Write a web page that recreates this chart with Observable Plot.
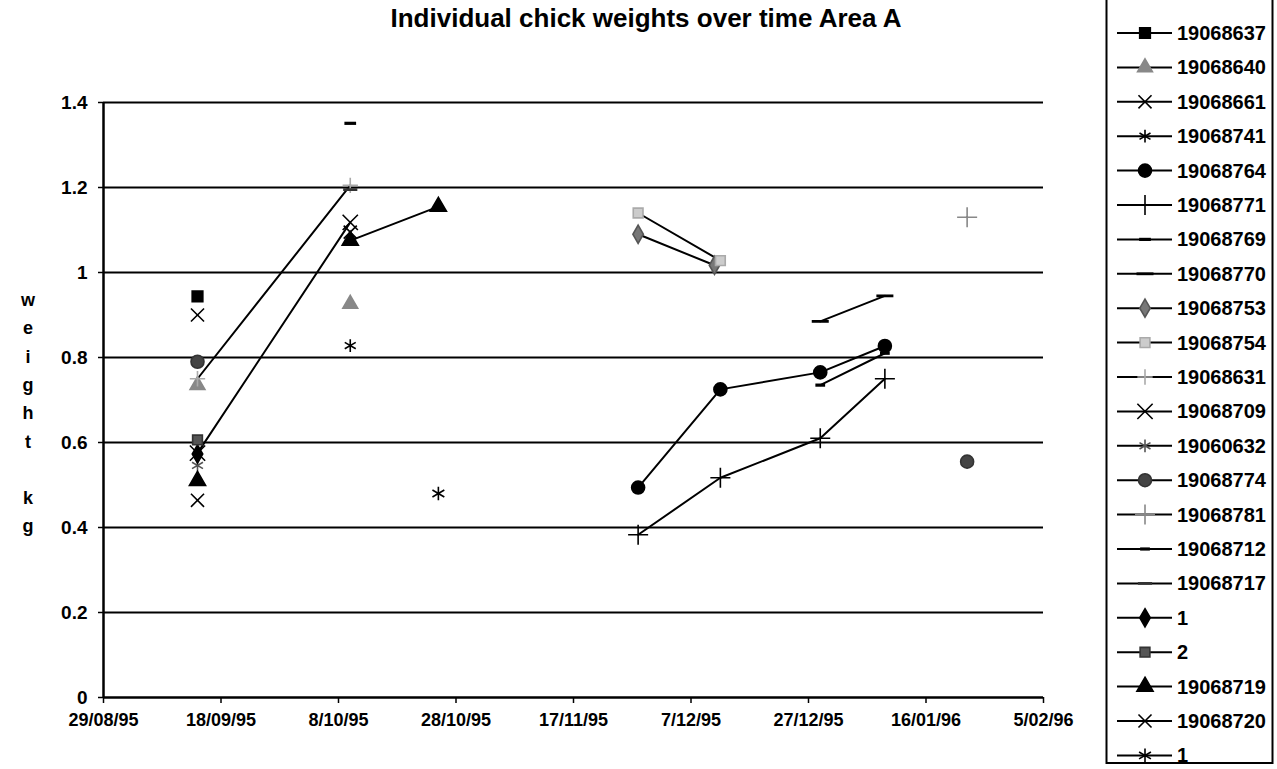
<!DOCTYPE html>
<html>
<head>
<meta charset="utf-8">
<script src="https://cdn.jsdelivr.net/npm/d3@7"></script>
<script src="https://cdn.jsdelivr.net/npm/@observablehq/plot@0.6"></script>
<style>
  body { margin: 0; background: #fff; font-family: Arial, "Liberation Sans", sans-serif; }
  #wrap { position: relative; width: 1277px; height: 769px; overflow: hidden; background: #fff; }
  #chart { position: absolute; left: 0; top: 0; }
  #title { position: absolute; top: 3px; left: 0; width: 1292px; text-align: center;
           font-weight: bold; font-size: 26px; color: #000; }
  #ylab { position: absolute; left: 17px; width: 22px; text-align: center;
          font-weight: bold; font-size: 18px; color: #000; }
  #ylab div { position: absolute; left: 0; width: 22px; }
  #legend { position: absolute; left: 1090px; top: 0; }
</style>
</head>
<body>
<div id="wrap">
  <div id="chart"></div>
  <div id="title"></div>
  <div id="ylab"></div>
  <div id="legend"></div>
</div>
<script>
// ---------- data ----------
const titleText = "Individual chick weights over time Area A";
const yLabelLetters = ["w", "e", "i", "g", "h", "t", "", "k", "g"];

const xTickDates = ["1995-08-29", "1995-09-18", "1995-10-08", "1995-10-28", "1995-11-17",
                    "1995-12-07", "1995-12-27", "1996-01-16", "1996-02-05"];
const yTicks = [0, 0.2, 0.4, 0.6, 0.8, 1, 1.2, 1.4];

const seriesNames = ["19068637", "19068640", "19068661", "19068741", "19068764", "19068771",
  "19068769", "19068770", "19068753", "19068754", "19068631", "19068709", "19060632",
  "19068774", "19068781", "19068712", "19068717", "1", "2", "19068719", "19068720", "1"];

// [date, weight kg]; null = break in the line
const w19068637 = [["1995-09-14", 0.944]];
const w19068640 = [["1995-09-14", 0.735], null, ["1995-10-10", 0.926]];
const w19068661 = [["1995-09-14", 0.90]];
const w19068741 = [["1995-10-10", 0.828]];
const w19068764 = [["1995-11-28", 0.494], ["1995-12-12", 0.725], ["1995-12-29", 0.765], ["1996-01-09", 0.827]];
const w19068771 = [["1995-11-28", 0.383], ["1995-12-12", 0.517], ["1995-12-29", 0.61], ["1996-01-09", 0.75]];
const w19068769 = [["1995-10-10", 1.351]];
const w19068770 = [["1995-12-29", 0.885], ["1996-01-09", 0.945]];
const w19068753 = [["1995-11-28", 1.09], ["1995-12-11", 1.017]];
const w19068754 = [["1995-11-28", 1.14], ["1995-12-12", 1.028]];
const w19068631 = [["1995-09-14", 0.75], ["1995-10-10", 1.205]];
const w19068709 = [["1995-09-14", 0.575], ["1995-10-10", 1.118]];
const w19060632 = [["1995-09-14", 0.546]];
const w19068774 = [["1995-09-14", 0.79], null, ["1996-01-23", 0.555]];
const w19068781 = [["1996-01-23", 1.13]];
const w19068712 = [["1995-12-29", 0.735], ["1996-01-09", 0.81]];
const w19068717 = [["1995-10-10", 1.195]];
const w1a      = [["1995-09-14", 0.573]];
const w2       = [["1995-09-14", 0.606]];
const w19068719 = [["1995-09-14", 0.51], null, ["1995-10-10", 1.075], ["1995-10-25", 1.155]];
const w19068720 = [["1995-09-14", 0.464], null, ["1995-10-10", 1.095]];
const w1b      = [["1995-10-25", 0.48]];

const seriesValues = [w19068637, w19068640, w19068661, w19068741, w19068764, w19068771,
  w19068769, w19068770, w19068753, w19068754, w19068631, w19068709, w19060632,
  w19068774, w19068781, w19068712, w19068717, w1a, w2, w19068719, w19068720, w1b];

// ---------- styles ----------
const dashShort = { draw(ctx, size) { const w = Math.sqrt(size) * 0.55; ctx.rect(-w, -1.6, 2 * w, 3.2); } };
const dashLong  = { draw(ctx, size) { const w = Math.sqrt(size) * 0.8; ctx.rect(-w, -1.4, 2 * w, 2.8); } };
// symbol, fill, stroke, radius
const markerStyles = [
  ["square", "#000", "#000", 6],
  ["triangle", "#888", "#888", 5.5],
  ["times", "none", "#000", 6],
  ["asterisk", "none", "#000", 6],
  ["circle", "#000", "#000", 6.5],
  ["plus", "none", "#000", 6.5],
  [dashShort, "#000", "none", 6],
  [dashLong, "#000", "none", 6],
  ["diamond", "#777", "#555", 5.5],
  ["square", "#ccc", "#aaa", 5.5],
  ["plus", "none", "#aaa", 5],
  ["times", "none", "#000", 7],
  ["asterisk", "none", "#555", 6],
  ["circle", "#444", "#333", 6.5],
  ["plus", "none", "#888", 6.5],
  [dashShort, "#000", "none", 5],
  [dashLong, "#333", "none", 5],
  ["diamond", "#000", "#000", 5.5],
  ["square", "#555", "#333", 5.5],
  ["triangle", "#000", "#000", 6],
  ["times", "none", "#000", 6],
  ["asterisk", "none", "#000", 6.5]
];

// ---------- build table ----------
const parse = d3.utcParse("%Y-%m-%d");
const rows = [];
seriesValues.forEach((arr, i) => {
  let last = null;
  arr.forEach(p => {
    if (p === null) rows.push({ key: i, name: seriesNames[i], date: last, weight: NaN });
    else { last = parse(p[0]); rows.push({ key: i, name: seriesNames[i], date: last, weight: p[1] }); }
  });
});
const points = rows.filter(r => Number.isFinite(r.weight));

const dotMarks = markerStyles.map((s, i) => Plot.dot(points.filter(r => r.key === i), {
  x: "date", y: "weight", symbol: s[0], fill: s[1], stroke: s[2], r: s[3], strokeWidth: 1.6
}));

const xDomain = [parse("1995-08-29"), parse("1996-02-05")];

const chart = Plot.plot({
  width: 1090,
  height: 769,
  marginLeft: 103,
  marginRight: 47,
  marginTop: 102,
  marginBottom: 72,
  style: { fontFamily: "Arial, 'Liberation Sans', sans-serif", fontSize: "18px", fontWeight: "bold", color: "#000", background: "transparent" },
  x: { type: "utc", domain: xDomain },
  y: { domain: [0, 1.4] },
  marks: [
    Plot.ruleY(yTicks.filter(d => d > 0), { stroke: "#000", strokeWidth: 2 }),
    Plot.ruleY([0], { stroke: "#000", strokeWidth: 2.5 }),
    Plot.ruleX([xDomain[0]], { stroke: "#000", strokeWidth: 2.5 }),
    Plot.axisY(yTicks, { tickSize: 5, tickPadding: 11, tickFormat: d => String(d), fontSize: 19, fontWeight: "bold", label: null, strokeWidth: 1.5 }),
    Plot.axisX(xTickDates.map(parse), { tickSize: 6, tickPadding: 10, tickFormat: d3.utcFormat("%-d/%m/%y"), fontSize: 18, fontWeight: "bold", label: null, strokeWidth: 1.5 }),
    Plot.line(rows, { x: "date", y: "weight", z: "key", stroke: "#000", strokeWidth: 2 }),
    ...dotMarks
  ]
});
document.getElementById("chart").appendChild(chart);

document.getElementById("title").textContent = titleText;

// y label letters
const ylab = document.getElementById("ylab");
yLabelLetters.forEach((ch, i) => {
  const d = document.createElement("div");
  d.textContent = ch;
  d.style.top = (290 + i * 28.3) + "px";
  ylab.appendChild(d);
});

// ---------- legend ----------
const lg = d3.select("#legend").append("svg").attr("width", 187).attr("height", 769);
lg.append("rect").attr("x", 16.5).attr("y", -30).attr("width", 166).attr("height", 793)
  .attr("fill", "#fff").attr("stroke", "#000").attr("stroke-width", 2);
const symMap = { square: d3.symbolSquare, triangle: d3.symbolTriangle, times: d3.symbolTimes,
  asterisk: d3.symbolAsterisk, circle: d3.symbolCircle, plus: d3.symbolPlus, diamond: d3.symbolDiamond };
seriesNames.forEach((name, i) => {
  const y = 33 + i * 34.4;
  const s = markerStyles[i];
  const g = lg.append("g").attr("transform", `translate(0,${y})`);
  g.append("line").attr("x1", 27).attr("x2", 82).attr("y1", 0).attr("y2", 0)
    .attr("stroke", "#000").attr("stroke-width", 2);
  const type = typeof s[0] === "string" ? symMap[s[0]] : s[0];
  g.append("path").attr("transform", "translate(55,0)")
    .attr("d", d3.symbol(type, Math.PI * s[3] * s[3]))
    .attr("fill", s[1]).attr("stroke", s[2]).attr("stroke-width", 1.6);
  g.append("text").attr("x", 87).attr("y", 7).text(name)
    .attr("font-family", "Arial, 'Liberation Sans', sans-serif").attr("font-weight", "bold")
    .attr("font-size", 20).attr("fill", "#000");
});
</script>
</body>
</html>
